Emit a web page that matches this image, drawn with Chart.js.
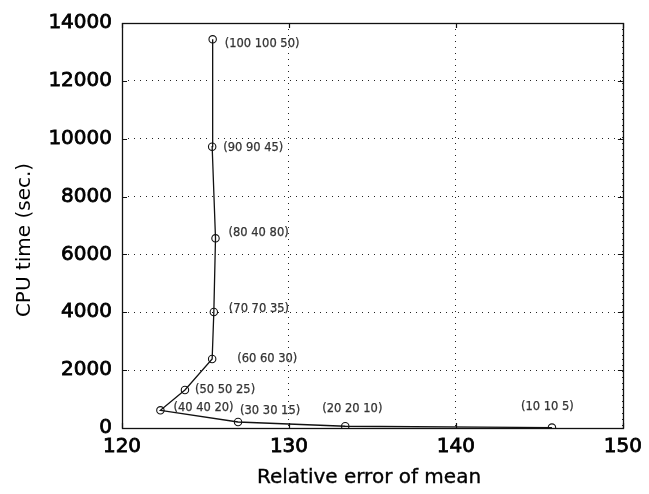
<!DOCTYPE html>
<html>
<head>
<meta charset="utf-8">
<script src="https://cdn.jsdelivr.net/npm/chart.js@4/dist/chart.umd.min.js"></script>
<style>
  html, body { margin: 0; padding: 0; background: #fff; }
  #wrap { width: 649px; height: 494px; }
</style>
</head>
<body>
<div id="wrap"><canvas id="c" width="649" height="494"></canvas></div>
<script>
// Grid settings (nx ny nz) and the resulting accuracy / cost
const settings = ['(10 10 5)', '(20 20 10)', '(30 30 15)', '(40 40 20)', '(50 50 25)',
                  '(60 60 30)', '(70 70 35)', '(80 40 80)', '(90 90 45)', '(100 100 50)'];
const relError = [145.75, 133.37, 126.95, 122.3, 123.77, 125.4, 125.5, 125.6, 125.4, 125.43];
const cpuTime  = [15, 60, 207, 612, 1314, 2385, 4010, 6558, 9724, 13437];
const xTicks = [120, 130, 140, 150];
const yTicks = [0, 2000, 4000, 6000, 8000, 10000, 12000, 14000];

// label placement relative to each marker (px)
const labelOffsets = [[-31, -21], [-23, -17], [2, -11], [13, -2], [10, 0],
                      [25, 0], [15, -3], [13, -5], [11, 1], [12, 5]];

const FONT = '"DejaVu Sans", Arial, sans-serif';

const points = relError.map((x, i) => ({ x: x, y: cpuTime[i] }));

const framePlugin = {
  id: 'frame',
  afterDraw(chart) {
    const ctx = chart.ctx;
    const a = chart.chartArea;
    const xs = chart.scales.x, ys = chart.scales.y;
    ctx.save();
    // point labels
    ctx.font = '11.5px ' + FONT;
    ctx.fillStyle = '#333';
    ctx.strokeStyle = '#333';
    ctx.lineWidth = 0.25;
    ctx.textBaseline = 'middle';
    ctx.textAlign = 'left';
    const meta = chart.getDatasetMeta(0);
    meta.data.forEach((el, i) => {
      const o = labelOffsets[i];
      ctx.strokeText(settings[i], el.x + o[0], el.y + o[1]);
      ctx.fillText(settings[i], el.x + o[0], el.y + o[1]);
    });
    // axes box
    ctx.strokeStyle = '#111';
    ctx.lineWidth = 1.3;
    ctx.strokeRect(Math.round(a.left) + 0.5, Math.round(a.top) + 0.5,
                   Math.round(a.right - a.left), Math.round(a.bottom - a.top));
    // inward tick marks on all four sides
    const tl = 5;
    ctx.lineWidth = 1.2;
    ctx.beginPath();
    xTicks.forEach(v => {
      const px = Math.round(xs.getPixelForValue(v)) + 0.5;
      ctx.moveTo(px, a.bottom); ctx.lineTo(px, a.bottom - tl);
      ctx.moveTo(px, a.top); ctx.lineTo(px, a.top + tl);
    });
    yTicks.forEach(v => {
      const py = Math.round(ys.getPixelForValue(v)) + 0.5;
      ctx.moveTo(a.left, py); ctx.lineTo(a.left + tl, py);
      ctx.moveTo(a.right, py); ctx.lineTo(a.right - tl, py);
    });
    ctx.stroke();
    // axis titles
    ctx.fillStyle = '#000';
    ctx.strokeStyle = '#000';
    ctx.lineWidth = 0.35;
    ctx.font = '20px ' + FONT;
    ctx.textAlign = 'center';
    ctx.textBaseline = 'middle';
    ctx.strokeText('Relative error of mean', 369, 478);
    ctx.fillText('Relative error of mean', 369, 478);
    ctx.translate(25, 240);
    ctx.rotate(-Math.PI / 2);
    ctx.fillText('CPU time (sec.)', 0, 0);
    ctx.restore();
  }
};

new Chart(document.getElementById('c'), {
  type: 'scatter',
  data: {
    datasets: [{
      data: points,
      showLine: true,
      borderColor: '#111',
      borderWidth: 1.3,
      pointRadius: 3.7,
      pointBorderWidth: 1.1,
      pointBorderColor: '#111',
      pointBackgroundColor: 'rgba(0,0,0,0)',
      tension: 0
    }]
  },
  options: {
    responsive: false,
    animation: false,
    devicePixelRatio: 1,
    layout: { padding: { top: 23, right: 23, left: 0, bottom: 0 } },
    plugins: { legend: { display: false }, tooltip: { enabled: false } },
    scales: {
      x: {
        type: 'linear',
        min: 120, max: 150,
        afterBuildTicks: s => { s.ticks = xTicks.map(v => ({ value: v })); },
        afterFit: s => { s.height = 66; },
        ticks: { color: '#000', font: { family: FONT, size: 20 }, padding: 7, maxRotation: 0,
                 textStrokeColor: '#000', textStrokeWidth: 0.8 },
        grid: { color: '#222', lineWidth: 1, drawTicks: false },
        border: { display: false, dash: [1, 5] }
      },
      y: {
        type: 'linear',
        min: 0, max: 14000,
        afterBuildTicks: s => { s.ticks = yTicks.map(v => ({ value: v })); },
        afterFit: s => { s.width = 122; },
        ticks: { color: '#000', font: { family: FONT, size: 20 }, padding: 10,
                 textStrokeColor: '#000', textStrokeWidth: 0.8,
                 callback: v => String(v) },
        grid: { color: '#222', lineWidth: 1, drawTicks: false },
        border: { display: false, dash: [1, 5] }
      }
    }
  },
  plugins: [framePlugin]
});
</script>
</body>
</html>
